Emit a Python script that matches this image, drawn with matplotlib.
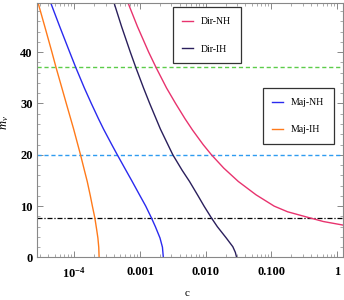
import numpy as np
import matplotlib
matplotlib.use("Agg")
import matplotlib.pyplot as plt
from matplotlib.ticker import FixedLocator, FixedFormatter, MultipleLocator, LogLocator

# --------------------------------------------------
# Style
# --------------------------------------------------
plt.rcParams["font.family"] = ["Liberation Serif", "DejaVu Serif"]
plt.rcParams["mathtext.fontset"] = "custom"
plt.rcParams["mathtext.rm"] = "Liberation Serif"
plt.rcParams["mathtext.it"] = "Liberation Serif:italic"
plt.rcParams["mathtext.bf"] = "Liberation Serif:bold"

# --------------------------------------------------
# Data
# --------------------------------------------------
m_majih = [49.4, 45, 40, 37, 33, 30, 25, 20, 17, 14.8, 12, 10, 7.7, 5.5, 3.8, 2, 0]
c_majih = [2.83e-5, 3.54e-5, 4.55e-5, 5.26e-5, 6.46e-5, 7.53e-5, 9.75e-5, 1.24e-4, 1.42e-4,
           1.57e-4, 1.75e-4, 1.88e-4, 2.05e-4, 2.18e-4, 2.28e-4, 2.35e-4, 2.38e-4]

m_majnh = [49.4, 45, 40, 37, 33, 30, 27, 25, 22, 20, 17, 14.8, 12, 10, 7.7, 6, 3.8, 2, 0]
c_majnh = [4.42e-5, 5.97e-5, 8.48e-5, 1.05e-4, 1.42e-4, 1.81e-4, 2.33e-4, 2.78e-4, 3.70e-4,
           4.50e-4, 6.08e-4, 7.59e-4, 1.0e-3, 1.22e-3, 1.49e-3, 1.71e-3, 2.01e-3, 2.19e-3, 2.26e-3]

m_dirih = [49.4, 45, 40, 37, 33, 30, 25, 20, 17, 14.8, 12, 10, 7.7, 6, 3.8, 2.1, 1, 0]
c_dirih = [4.06e-4, 5.22e-4, 7.10e-4, 8.61e-4, 1.13e-3, 1.40e-3, 2.04e-3, 3.15e-3, 4.36e-3,
           5.66e-3, 7.64e-3, 9.42e-3, 1.22e-2, 1.50e-2, 2.05e-2, 2.58e-2, 2.82e-2, 2.95e-2]

m_dirnh = [49.4, 45, 40, 37, 33, 30, 27, 24.8, 22, 20, 17.4, 14.8, 12.2, 10, 8.9, 7.7, 7, 6.3]
c_dirnh = [6.64e-4, 9.1e-4, 1.35e-3, 1.75e-3, 2.53e-3, 3.47e-3, 4.84e-3, 6.30e-3, 9.10e-3,
           1.22e-2, 1.88e-2, 3.13e-2, 5.83e-2, 0.110, 0.176, 0.387, 0.619, 1.24]

m_levels = [37, 20, 7.7]

xticks = [1e-4, 1e-3, 1e-2, 1e-1, 1]
xticklabels = [r"$\mathbf{10^{-4}}$", "0.001", "0.010", "0.100", "1"]
yticks = [0, 10, 20, 30, 40]

# --------------------------------------------------
# Figure
# --------------------------------------------------
fig = plt.figure(figsize=(3.44, 3.0), dpi=100)
ax = fig.add_axes([0.1076, 0.1417, 0.8904, 0.8473])

ax.axhline(m_levels[0], color="#5ccc4a", lw=1.0, ls=(0, (3, 2)))
ax.axhline(m_levels[1], color="#2f9cf0", lw=1.0, ls=(0, (3, 2)))
ax.axhline(m_levels[2], color="black", lw=0.9, ls=(0, (4, 1.5, 1, 1.5)))

l_dirnh, = ax.plot(c_dirnh, m_dirnh, color="#e8336e", lw=1.0)
l_dirih, = ax.plot(c_dirih, m_dirih, color="#2a1f5c", lw=1.0)
l_majnh, = ax.plot(c_majnh, m_majnh, color="#2a2aef", lw=1.0)
l_majih, = ax.plot(c_majih, m_majih, color="#ff7a1a", lw=1.0)

ax.set_xscale("log")
ax.set_xlim(2.7e-5, 1.24)
ax.set_ylim(0, 49.5)

ax.xaxis.set_major_locator(FixedLocator(xticks))
ax.xaxis.set_major_formatter(FixedFormatter(xticklabels))
ax.xaxis.set_minor_locator(LogLocator(base=10, subs=np.arange(2, 10)))
ax.yaxis.set_major_locator(FixedLocator(yticks))
ax.yaxis.set_minor_locator(MultipleLocator(2))

ax.tick_params(which="both", direction="in", top=True, right=True, color="#888888")
ax.tick_params(which="major", length=4, width=0.7, labelsize=9)
ax.tick_params(which="minor", length=2, width=0.5)
ax.tick_params(axis="x", which="major", pad=6)
ax.tick_params(axis="y", which="major", pad=3)
for lab in ax.get_xticklabels() + ax.get_yticklabels():
    lab.set_fontweight("bold")
for s in ax.spines.values():
    s.set_color("#888888")
    s.set_linewidth(0.8)

ax.set_xlabel("c", fontsize=8)
ax.xaxis.set_label_coords(0.49, -0.125)
ax.set_ylabel(r"$m_\nu$", fontsize=9)
ax.yaxis.set_label_coords(-0.085, 0.53)

leg_kw = dict(frameon=True, fancybox=False, framealpha=1, edgecolor="#333333",
              fontsize=7, handlelength=1.1, handletextpad=0.8, labelspacing=1.9,
              borderpad=1.0, borderaxespad=0)
leg1 = ax.legend([l_dirnh, l_dirih], ["Dir-NH", "Dir-IH"], loc="upper left",
                 bbox_to_anchor=(0.443, 0.984), **leg_kw)
leg1.get_frame().set_linewidth(0.9)
ax.add_artist(leg1)
leg2 = ax.legend([l_majnh, l_majih], ["Maj-NH", "Maj-IH"], loc="upper left",
                 bbox_to_anchor=(0.737, 0.666), **leg_kw)
leg2.get_frame().set_linewidth(0.9)

fig.savefig("out.png", dpi=100)
